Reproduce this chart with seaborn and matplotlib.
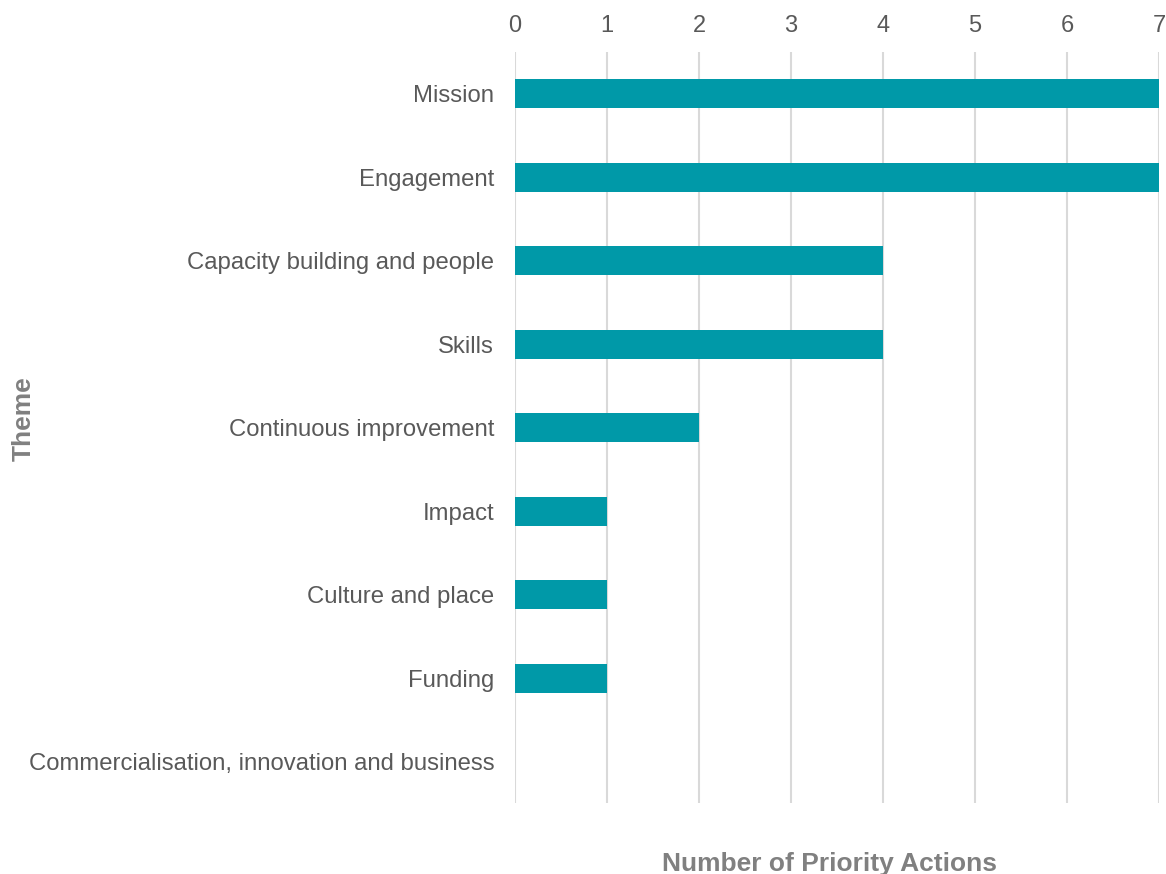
import matplotlib
matplotlib.use("Agg")
import matplotlib.pyplot as plt
import seaborn as sns
import pandas as pd

themes = [
    "Mission",
    "Engagement",
    "Capacity building and people",
    "Skills",
    "Continuous improvement",
    "Impact",
    "Culture and place",
    "Funding",
    "Commercialisation, innovation and business",
]
actions = [7, 7, 4, 4, 2, 1, 1, 1, 0]
x_ticks = [0, 1, 2, 3, 4, 5, 6, 7]

df = pd.DataFrame({"Theme": themes, "Actions": actions})

sns.set_theme(style="white")
plt.rcParams["font.family"] = ["Liberation Sans", "DejaVu Sans"]

fig = plt.figure(figsize=(11.66, 8.74), dpi=100)
ax = fig.add_axes([0.4417, 0.0807, 0.5523, 0.8598])

sns.barplot(data=df, x="Actions", y="Theme", orient="h", color="#0099A8",
            width=0.35, saturation=1, linewidth=0, ax=ax, zorder=3)

ax.set_xlim(0, 7)
ax.set_xticks(x_ticks)
ax.xaxis.tick_top()
ax.grid(axis="x", color="#D9D9D9", linewidth=1.5, zorder=0)
ax.grid(axis="y", visible=False)
ax.set_axisbelow(True)
for s in ax.spines.values():
    s.set_visible(False)

ax.tick_params(axis="x", length=0, pad=11, labelsize=17, labelcolor="#595959")
ax.tick_params(axis="y", length=0, pad=15, labelsize=17.2, labelcolor="#595959")

ax.set_xlabel("Number of Priority Actions", fontsize=19, fontweight="bold",
              color="#808080")
ax.xaxis.set_label_position("bottom")
ax.xaxis.set_label_coords(0.489, -0.065)
ax.set_ylabel("Theme", fontsize=19, fontweight="bold", color="#808080")
ax.yaxis.set_label_coords(-0.745, 0.512)

fig.savefig("out.png", dpi=100)
